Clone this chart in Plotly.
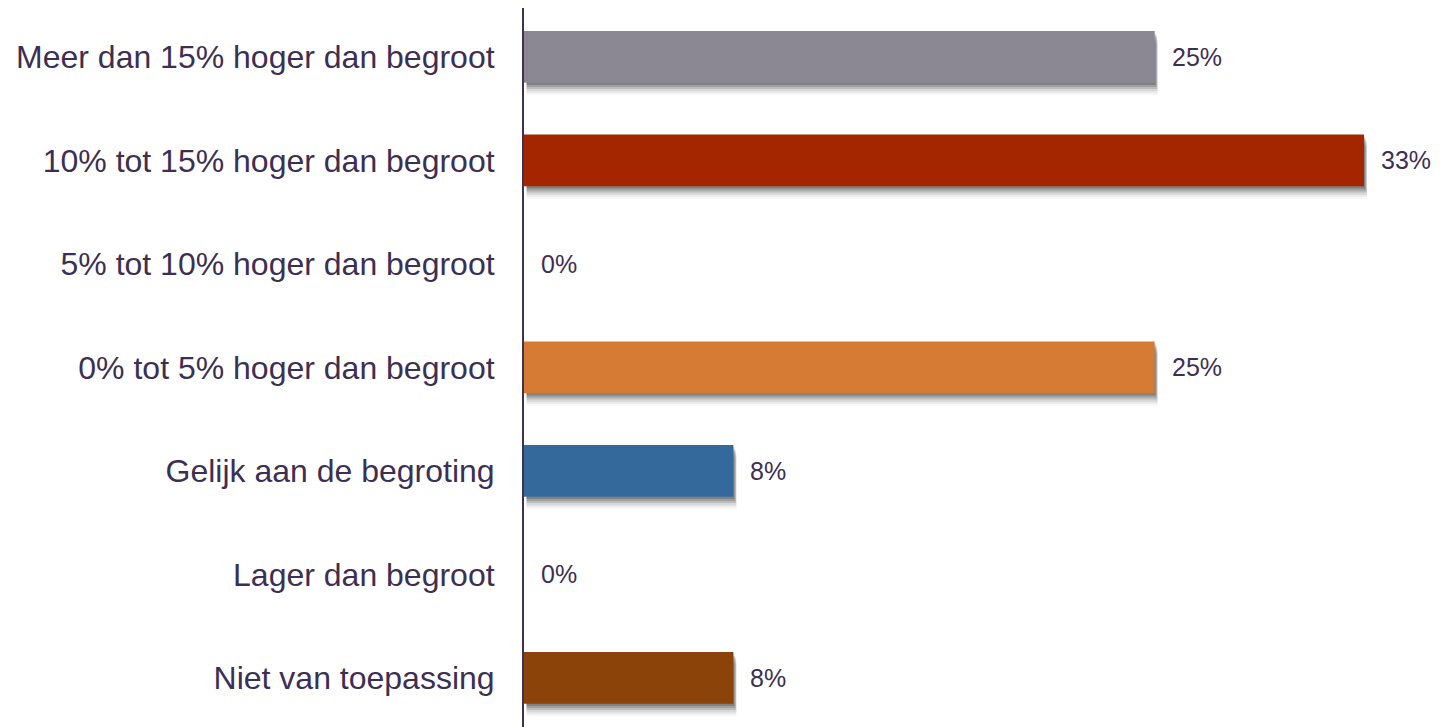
import plotly.graph_objects as go

categories = [
    "Meer dan 15% hoger dan begroot",
    "10% tot 15% hoger dan begroot",
    "5% tot 10% hoger dan begroot",
    "0% tot 5% hoger dan begroot",
    "Gelijk aan de begroting",
    "Lager dan begroot",
    "Niet van toepassing",
]
values = [25.0, 33.3, 0.0, 25.0, 8.3, 0.0, 8.3]
value_labels = ["25%", "33%", "0%", "25%", "8%", "0%", "8%"]
colors = ["#8B8893", "#A32600", "#8B8893", "#D67B33", "#336A9B", "#336A9B", "#8B4309"]

TEXT = "#3D2F53"
fig = go.Figure()

# soft drop shadows (several translucent layers)
shadow_layers = [(0.02, 0.04, 0.18), (0.04, 0.08, 0.15), (0.06, 0.10, 0.12),
                 (0.08, 0.12, 0.08), (0.10, 0.12, 0.05), (0.12, 0.12, 0.03)]
for dy, dx, a in shadow_layers:
    fig.add_trace(go.Bar(
        y=categories, x=[v + dx - 0.1 if v > 0 else 0 for v in values],
        base=[0.1 if v > 0 else 0 for v in values],
        orientation="h", width=0.5, offset=-0.25 + dy,
        marker=dict(color=f"rgba(0,0,0,{a})", line=dict(width=0)),
        hoverinfo="skip", showlegend=False,
    ))

fig.add_trace(go.Bar(
    y=categories, x=values, orientation="h", width=0.5, offset=-0.25,
    marker=dict(color=colors, line=dict(width=0)),
    showlegend=False,
))

for c, v, t in zip(categories, values, value_labels):
    fig.add_annotation(x=v, y=c, text=t, showarrow=False, xanchor="left",
                       xshift=15, font=dict(size=25, color=TEXT, family="Liberation Sans, Arial"))

fig.update_layout(
    width=1440, height=727,
    margin=dict(l=516, r=0, t=0, b=0),
    paper_bgcolor="white", plot_bgcolor="white",
    barmode="overlay",
    font=dict(family="Liberation Sans, Arial", color=TEXT),
    xaxis=dict(range=[0, 36.63], showgrid=False, zeroline=False, showticklabels=False, showline=False),
    yaxis=dict(type="category", categoryorder="array", categoryarray=categories,
               range=[6.551, -0.4734], showgrid=False, zeroline=False,
               showline=True, linecolor="#3F3151", linewidth=2,
               ticks="outside", ticklen=21, tickcolor="rgba(0,0,0,0)",
               tickfont=dict(size=32, color=TEXT)),
)

fig.write_html("out.html")
